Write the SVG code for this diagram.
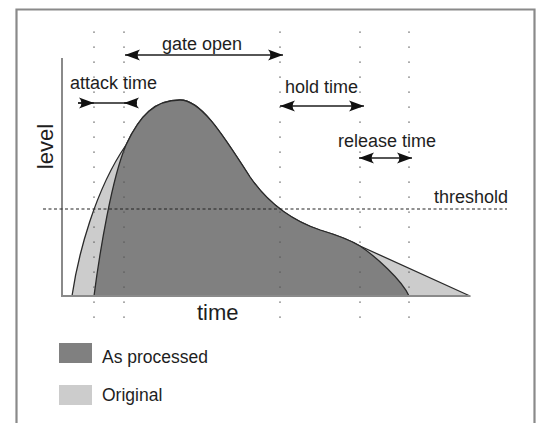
<svg xmlns="http://www.w3.org/2000/svg" width="538" height="423" viewBox="0 0 538 423">
<defs>
<style>
text{font-family:"Liberation Sans",Arial,sans-serif;fill:#1e1e1e}
.lbl{font-size:18px}
.ax{font-size:22px}
.leg{font-size:17.5px}
.grid{stroke:#555;stroke-width:1.3;stroke-dasharray:1.3 13.7;fill:none}
.arr{stroke:#1e1e1e;stroke-width:1.3;fill:none}
.shape{stroke:#2a2a2a;stroke-width:1.3;stroke-linejoin:round}
</style>
<marker id="ah" markerUnits="userSpaceOnUse" markerWidth="20" markerHeight="14" viewBox="-16 -7 20 14" refX="0" refY="0" orient="auto-start-reverse">
<path d="M0,0 L-15,-5.5 Q-10,0 -15,5.5 Z" fill="#111"/>
</marker>
</defs>
<rect x="0" y="0" width="538" height="423" fill="#fff"/>
<g id="frame"><path d="M16.5,430 V9.5 H534.5 V430" fill="none" stroke="#8a8a8a" stroke-width="2.2"/></g>

<g id="original"><path class="shape" fill="#cccccc" d="M72,296 C78,255 95,190 126,145 C140,115 155,100 180,100 C200,100 220,130 250,177 C268,203 290,220 320,230 C340,236 350,240 360,246 L470,296 Z"/></g>
<g id="processed"><path class="shape" fill="#808080" d="M94,296 C100,250 112,178 126,145 C140,115 155,100 180,100 C200,100 220,130 250,177 C268,203 290,220 320,230 C340,236 350,240 360,246 C375,256 402,280 409,296 Z"/></g>

<g id="axes" stroke="#8a8a8a" stroke-width="2" fill="none">
<path d="M62,58 V296 H470"/>
</g>

<g id="connectors">
<line class="grid" x1="94" y1="31.5" x2="94" y2="319"/>
<line class="grid" x1="124" y1="31.5" x2="124" y2="319"/>
<line class="grid" x1="280" y1="31.5" x2="280" y2="319"/>
<line class="grid" x1="360" y1="31.5" x2="360" y2="319"/>
<line class="grid" x1="409" y1="31.5" x2="409" y2="319"/>
<line x1="43" y1="209" x2="507" y2="209" stroke="#222" stroke-width="1.1" stroke-dasharray="3 2.5"/>
<line class="arr" x1="125" y1="55" x2="283" y2="55" marker-start="url(#ah)" marker-end="url(#ah)"/>
<line class="arr" x1="78" y1="103" x2="137" y2="103"/>
<line class="arr" x1="78" y1="103" x2="94" y2="103" marker-end="url(#ah)"/>
<line class="arr" x1="137" y1="103" x2="124" y2="103" marker-end="url(#ah)"/>
<line class="arr" x1="280" y1="106" x2="364" y2="106" marker-start="url(#ah)" marker-end="url(#ah)"/>
<line class="arr" x1="359" y1="158" x2="412" y2="158" marker-start="url(#ah)" marker-end="url(#ah)"/>
</g>

<g id="labels">
<text class="lbl" x="162" y="50">gate open</text>
<text class="lbl" x="70" y="89">attack time</text>
<text class="lbl" x="285" y="93">hold time</text>
<text class="lbl" x="338" y="147">release time</text>
<text class="lbl" x="434" y="203">threshold</text>
<text class="ax" x="197" y="320">time</text>
<text class="ax" transform="translate(53,146.5) rotate(-90)" text-anchor="middle">level</text>
</g>

<g id="legend">
<rect x="59" y="343" width="33" height="20" fill="#808080"/>
<text class="leg" x="102" y="362.5">As processed</text>
<rect x="59" y="385" width="33" height="20" fill="#cccccc"/>
<text class="leg" x="102" y="400.5">Original</text>
</g>
</svg>
